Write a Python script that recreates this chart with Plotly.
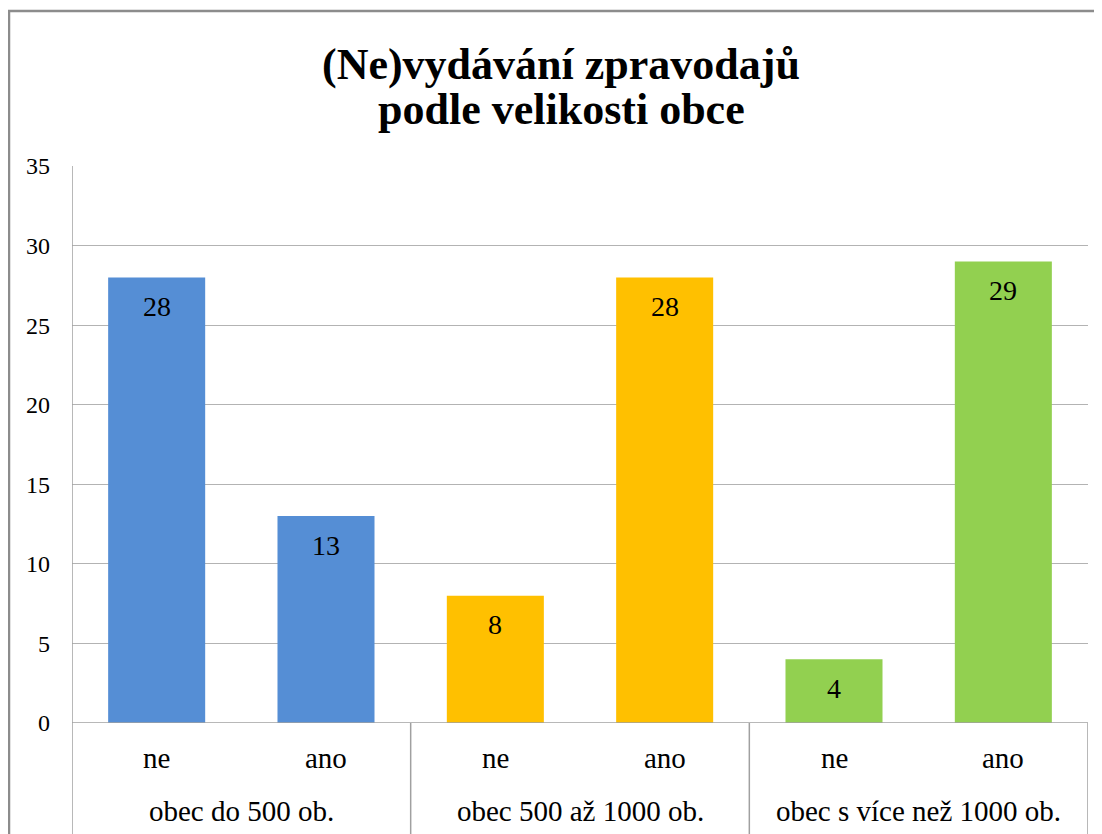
import plotly.graph_objects as go

# ---- data ----
groups = ["obec do 500 ob.", "obec 500 až 1000 ob.", "obec s více než 1000 ob."]
answers = ["ne", "ano"]
values = [28, 13, 8, 28, 4, 29]
group_colors = ["#558ED5", "#FFC000", "#92D050"]
title_lines = ["(Ne)vydávání zpravodajů", "podle velikosti obce"]
y_ticks = [0, 5, 10, 15, 20, 25, 30, 35]

FONT = "Liberation Serif"

# page body has an 8px margin; geometry below is in screen pixels
OFF = 8
W, H = 1102 - OFF, 834 - OFF
L, R, T, B = 72, 1088, 166, 723  # screen px of plot area
PW, PH = R - L, B - T


def px(x):
    return (x - L) / PW


def py(y):
    return (B - y) / PH


n_ans = len(answers)
xs = list(range(len(groups) * n_ans))
inner_labels = [answers[i % n_ans] for i in xs]
bar_colors = [group_colors[i // n_ans] for i in xs]

fig = go.Figure()
fig.add_trace(go.Bar(
    x=xs, y=values, marker=dict(color=bar_colors, line=dict(width=0)),
    hoverinfo="y", showlegend=False,
))

annotations = []
for x, v in zip(xs, values):
    annotations.append(dict(
        x=x, y=v, xref="x", yref="y", text=str(v), showarrow=False,
        yanchor="middle", yshift=-29, font=dict(family=FONT, size=28, color="#000000"),
    ))
for x, lab in zip(xs, inner_labels):
    annotations.append(dict(
        x=x, y=py(758), xref="x", yref="paper", text=lab, showarrow=False,
        yanchor="middle", font=dict(family=FONT, size=29, color="#000000"),
    ))
for g, name in enumerate(groups):
    annotations.append(dict(
        x=g * n_ans + (n_ans - 1) / 2, y=py(811), xref="x", yref="paper", text=name,
        showarrow=False, yanchor="middle", font=dict(family=FONT, size=29, color="#000000"),
    ))
annotations.append(dict(x=px(561), y=py(64), xref="paper", yref="paper", text="<b>%s</b>" % title_lines[0],
                        showarrow=False, yanchor="middle", font=dict(family=FONT, size=44, color="#000000")))
annotations.append(dict(x=px(561), y=py(109), xref="paper", yref="paper", text="<b>%s</b>" % title_lines[1],
                        showarrow=False, yanchor="middle", font=dict(family=FONT, size=44, color="#000000")))

shapes = []
shapes.append(dict(type="rect", xref="paper", yref="paper", x0=px(9), x1=px(1130), y0=py(870), y1=py(11),
                   line=dict(color="#8C8C8C", width=2.5), layer="below"))
for g in range(len(groups) + 1):
    xb = g * n_ans - 0.5
    y_top = 1 if g == 0 else 0
    shapes.append(dict(type="line", xref="x", yref="paper", x0=xb, x1=xb, y0=py(850), y1=y_top,
                       line=dict(color="#A0A0A0", width=1.5)))
shapes.append(dict(type="line", xref="paper", yref="y", x0=0, x1=1, y0=0, y1=0,
                   line=dict(color="#A0A0A0", width=1.5)))

fig.update_layout(
    width=W, height=H,
    margin=dict(l=L - OFF, r=W + OFF - R, t=T - OFF, b=H + OFF - B),
    paper_bgcolor="white", plot_bgcolor="white",
    bargap=0.427,
    annotations=annotations, shapes=shapes,
    xaxis=dict(range=[-0.5, len(xs) - 0.5], showticklabels=False, showgrid=False,
               zeroline=False, showline=False, fixedrange=True),
    yaxis=dict(range=[0, 35], tickvals=y_ticks, showgrid=True, gridcolor="#B3B3B3", gridwidth=1.3,
               zeroline=False, showline=False, ticks="", ticklabelstandoff=21,
               tickfont=dict(family=FONT, size=24, color="#000000"), fixedrange=True),
)

fig.write_html("out.html")
